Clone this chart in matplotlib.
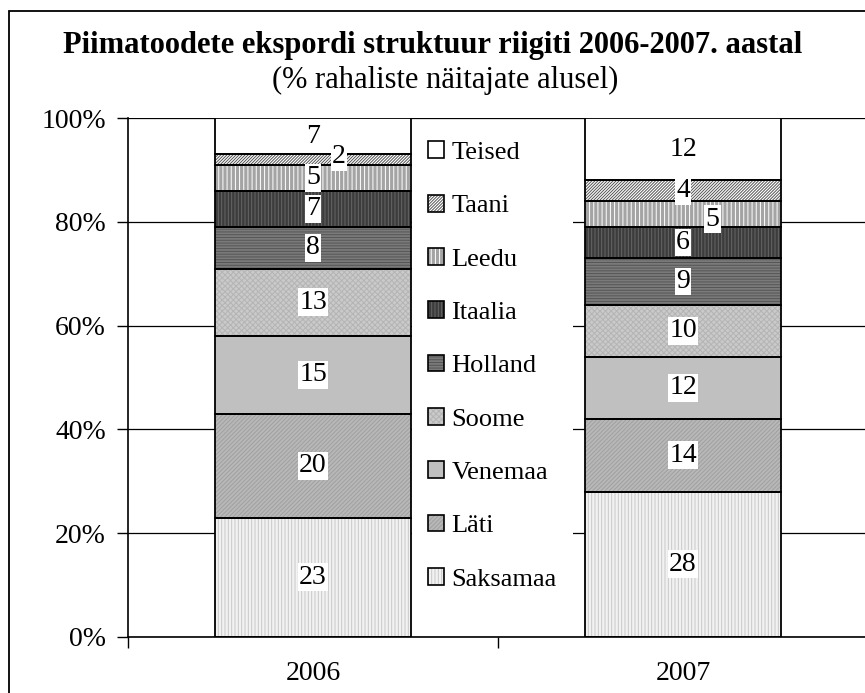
import matplotlib.pyplot as plt
from matplotlib.patches import Patch, Rectangle
from matplotlib.legend_handler import HandlerTuple
import numpy as np

plt.rcParams["font.family"] = ["Liberation Serif", "DejaVu Serif"]
plt.rcParams["hatch.linewidth"] = 0.7

# andmed
aastad = ["2006", "2007"]
riigid = ["Saksamaa", "Läti", "Venemaa", "Soome", "Holland",
          "Itaalia", "Leedu", "Taani", "Teised"]
v2006 = [23, 20, 15, 13, 8, 7, 5, 2, 7]
v2007 = [28, 14, 12, 10, 9, 6, 5, 4, 12]

# (taust, viirutus, viirutuse värv)
stiilid = [
    ("#f2f2f2", "|||||", "#c8c8c8"),
    ("#b8b8b8", "////////", "#a0a0a0"),
    ("#c0c0c0", "", "#c0c0c0"),
    ("#cacaca", "xxxxxx", "#b4b4b4"),
    ("#7a7a7a", "------", "#555555"),
    ("#3c3c3c", "|||||", "#666666"),
    ("#a4a4a4", "||||", "#ffffff"),
    ("#ffffff", "///////////", "#555555"),
    ("#ffffff", "", "#ffffff"),
]

# sildi nihe (x, y) andmeühikutes, vaikimisi keskel
nihked = {(0, 7): (0.07, 0.5), (1, 6): (0.08, -1.0)}

fig = plt.figure(figsize=(8.65, 6.93), dpi=100)
ax = fig.add_axes([128 / 865, 1 - 637 / 693, 740 / 865, 519 / 693])

x = np.arange(len(aastad))
laius = 0.53
andmed = np.array([v2006, v2007])
alus = np.zeros(len(aastad))
for i, riik in enumerate(riigid):
    vals = andmed[:, i]
    face, hatch, hc = stiilid[i]
    ax.bar(x, vals, laius, bottom=alus, color=face, hatch=hatch,
           edgecolor=hc, linewidth=0, zorder=2)
    ax.bar(x, vals, laius, bottom=alus, fill=False, edgecolor="black",
           linewidth=1.3, zorder=3)
    for j in range(len(aastad)):
        dx, dy = nihked.get((j, i), (0, 0))
        ax.text(x[j] + dx, alus[j] + vals[j] / 2 + dy, str(vals[j]),
                ha="center", va="center", fontsize=20, zorder=5,
                bbox=dict(facecolor="white", edgecolor="none", pad=1))
    alus += vals

ax.set_xlim(-0.5, 1.5)
ax.set_ylim(0, 100)
ax.set_yticks(np.arange(0, 101, 20))
ax.set_yticklabels([f"{t}%" for t in range(0, 101, 20)])
ax.set_xticks(x)
ax.set_xticklabels(aastad)
ax.set_xticks([-0.5, 0.5, 1.5], minor=True)
ax.tick_params(axis="x", which="major", length=0, pad=17, labelsize=20)
ax.tick_params(axis="x", which="minor", length=8, width=1)
ax.tick_params(axis="y", length=8, width=1, labelsize=20, pad=8)
ax.yaxis.grid(True, color="black", linewidth=0.9, zorder=0)
ax.set_axisbelow(True)
for s in ["top", "right"]:
    ax.spines[s].set_visible(False)
for s in ["left", "bottom"]:
    ax.spines[s].set_linewidth(1.2)

kaed = []
for face, hatch, hc in stiilid:
    sisu = Patch(facecolor=face, hatch=hatch, edgecolor=hc, linewidth=0)
    serv = Patch(fill=False, edgecolor="black", linewidth=1.2)
    kaed.append((sisu, serv))
leg = ax.legend(kaed[::-1], riigid[::-1], loc="center left",
                bbox_to_anchor=((412 - 128) / 740, (637 - 366) / 519),
                handler_map={tuple: HandlerTuple(ndivide=1)},
                fontsize=19, frameon=True, fancybox=False, framealpha=1,
                edgecolor="none", labelspacing=1.16, handlelength=0.6,
                handleheight=0.6, handletextpad=0.3, borderpad=0.6,
                borderaxespad=0)
leg.set_zorder(4)

fig.text(0.5, 1 - 45 / 693, "Piimatoodete ekspordi struktuur riigiti 2006-2007. aastal",
         ha="center", va="center", fontsize=22, fontweight="bold")
fig.text(445 / 865, 1 - 80 / 693, "(% rahaliste näitajate alusel)",
         ha="center", va="center", fontsize=22)

fig.patches.append(Rectangle((9 / 865, -0.1), 1.1, 1 - 11 / 693 + 0.1,
                             transform=fig.transFigure, fill=False,
                             edgecolor="black", linewidth=1.3))

plt.savefig("out.png", dpi=100)
